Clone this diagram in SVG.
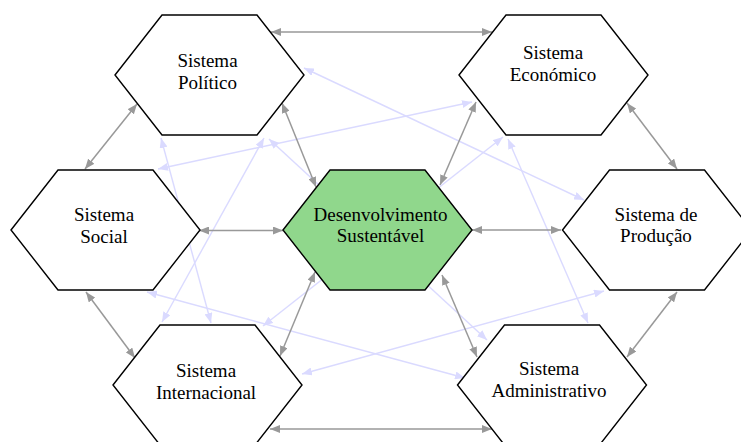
<svg xmlns="http://www.w3.org/2000/svg" xmlns:xlink="http://www.w3.org/1999/xlink" width="741" height="442" viewBox="0 0 741 442">
<style>
.hex{stroke:#000;stroke-width:1.4;fill:#fff}
.green{fill:#90d78c}
.t{font-family:"Liberation Serif","Times New Roman",serif;font-size:19px;fill:#000;text-anchor:middle}
.g{stroke:#999;stroke-width:1.5;fill:none;marker-start:url(#ag);marker-end:url(#ag)}
.l{stroke:#dadaff;stroke-width:1.4;fill:none;marker-start:url(#al);marker-end:url(#al)}
</style>
<defs>
<path id="hex" d="M-94.5,0 L-47.5,-60 L47.5,-60 L94.5,0 L47.5,60 L-47.5,60 Z"/>
<marker id="ag" viewBox="0 0 10 8" refX="10" refY="4" markerWidth="10" markerHeight="8" markerUnits="userSpaceOnUse" orient="auto-start-reverse"><path d="M0,0 L10,4 L0,8 Z" fill="#999"/></marker>
<marker id="al" viewBox="0 0 10 8" refX="10" refY="4" markerWidth="10" markerHeight="8" markerUnits="userSpaceOnUse" orient="auto-start-reverse"><path d="M0,0 L10,4 L0,8 Z" fill="#dadaff"/></marker>
</defs>
<rect width="741" height="442" fill="#fff"/>
<g id="connectors">
<path class="l" d="M304,68 L584,200"/>
<path class="l" d="M269,139 L487,340"/>
<path class="l" d="M161,138 L211,323"/>
<path class="l" d="M264,138 L162,322"/>
<path class="l" d="M472,102 L158,169"/>
<path class="l" d="M503,137 L263,326"/>
<path class="l" d="M508,139 L588,323"/>
<path class="l" d="M147,292 L465,378"/>
<path class="l" d="M302,374 L604,291"/>
<path class="g" d="M271,32 L492,32"/>
<path class="g" d="M137,104 L85,169"/>
<path class="g" d="M282,103 L316,187"/>
<path class="g" d="M476,102 L440,185"/>
<path class="g" d="M627,103 L677,169"/>
<path class="g" d="M199,230.5 L283,230.5"/>
<path class="g" d="M472,230 L561,230"/>
<path class="g" d="M86,292 L135,358"/>
<path class="g" d="M315,272 L280,356"/>
<path class="g" d="M442,275 L477,357"/>
<path class="g" d="M677,292 L627,357"/>
<path class="g" d="M270,429 L492,429"/>
</g>
<g id="politico"><use xlink:href="#hex" class="hex" x="209.5" y="75"/><text class="t" x="207.5" y="66.7">Sistema</text><text class="t" x="207.5" y="89.3">Político</text></g>
<g id="economico"><use xlink:href="#hex" class="hex" x="553.5" y="75"/><text class="t" x="553" y="59.3">Sistema</text><text class="t" x="553" y="80.7">Económico</text></g>
<g id="social"><use xlink:href="#hex" class="hex" x="105.5" y="230"/><text class="t" x="104" y="221">Sistema</text><text class="t" x="104" y="243">Social</text></g>
<g id="desenvolvimento"><use xlink:href="#hex" class="hex green" x="377.5" y="230"/><text class="t" x="380.5" y="221">Desenvolvimento</text><text class="t" x="380.5" y="241.7">Sustentável</text></g>
<g id="producao"><use xlink:href="#hex" class="hex" x="657" y="230"/><text class="t" x="656" y="221">Sistema de</text><text class="t" x="656" y="241.7">Produção</text></g>
<g id="internacional"><use xlink:href="#hex" class="hex" x="207.5" y="385"/><text class="t" x="206" y="376.7">Sistema</text><text class="t" x="206" y="399">Internacional</text></g>
<g id="administrativo"><use xlink:href="#hex" class="hex" x="552" y="385"/><text class="t" x="549" y="375">Sistema</text><text class="t" x="549" y="397.3">Administrativo</text></g>
</svg>
